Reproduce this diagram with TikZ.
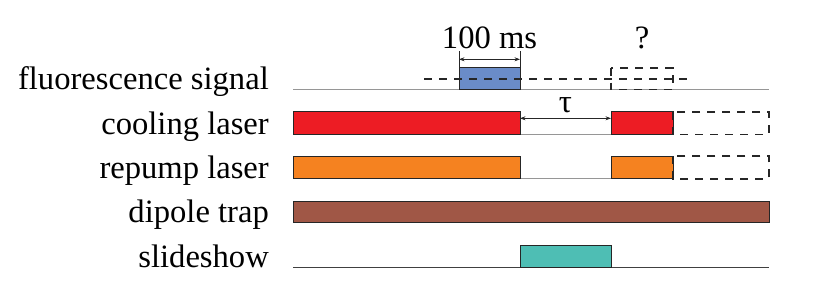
\documentclass[tikz,border=0pt]{standalone}
\usepackage{fontspec}
\setmainfont{Liberation Serif}
\usetikzlibrary{arrows.meta}
\definecolor{sigblue}{RGB}{106,140,200}
\definecolor{coolred}{RGB}{237,28,36}
\definecolor{reporange}{RGB}{245,130,32}
\definecolor{dipbrown}{RGB}{160,87,70}
\definecolor{slteal}{RGB}{78,190,180}
\definecolor{basegray}{RGB}{150,150,150}
\tikzset{
  pulse/.style={draw=black!85,line width=0.9pt},
  ghost/.style={draw=black!85,line width=1.6pt,dash pattern=on 8pt off 7pt},
  baseline/.style={draw=basegray,line width=1pt},
  lbl/.style={anchor=base east,inner sep=0pt,font=\fontsize{32.6}{36}\selectfont},
  toptext/.style={anchor=base,inner sep=0pt,font=\fontsize{32.6}{36}\selectfont},
  dim/.style={draw=black!85,line width=0.7pt,{Stealth[length=5.5pt,width=4pt]}-{Stealth[length=5.5pt,width=4pt]}},
  ext/.style={draw=black!85,line width=0.7pt}
}
\begin{document}
\begin{tikzpicture}[x=1pt,y=-1pt]
\useasboundingbox (0,0) rectangle (830,289);
% labels
\node[lbl] (lf) at (269,89.3) {fluorescence signal};
\node[lbl] (lc) at (269,134) {cooling laser};
\node[lbl] (lr) at (269,178.5) {repump laser};
\node[lbl] (ld) at (269,222.7) {dipole trap};
\node[lbl] (ls) at (269,267.5) {slideshow};
% coordinates
\coordinate (fb0) at (293,89.3); \coordinate (fb1) at (769,89.3);
\coordinate (cg0) at (520,134.3); \coordinate (cg1) at (611,134.3);
\coordinate (rg0) at (520,178.7); \coordinate (rg1) at (611,178.7);
\coordinate (sb0) at (293,267.5); \coordinate (sb1) at (769,267.5);
% baselines
\draw[baseline] (fb0) -- (fb1);
\draw[baseline] (cg0) -- (cg1);
\draw[baseline] (rg0) -- (rg1);
\draw[baseline,draw=black!75] (sb0) -- (sb1);
% fluorescence
\draw[pulse,fill=sigblue] (459,67.7) rectangle (520,89.3);
\draw[ghost] (611,67.7) rectangle (673,89.3);
\coordinate (dl0) at (424,79); \coordinate (dl1) at (691,79);
\draw[ghost] (dl0) -- (dl1);
% dimension 100 ms
\coordinate (e0t) at (459,51); \coordinate (e0b) at (459,67.7);
\coordinate (e1t) at (520,51); \coordinate (e1b) at (520,67.7);
\draw[ext] (e0t) -- (e0b);
\draw[ext] (e1t) -- (e1b);
\coordinate (d0) at (459,59.3); \coordinate (d1) at (520,59.3);
\draw[dim] (d0) -- (d1);
\node[toptext] (t100) at (489.5,48) {100 ms};
\node[toptext] (tq) at (642,48) {?};
% cooling
\draw[pulse,fill=coolred] (293,111.7) rectangle (520,134.3);
\draw[pulse,fill=coolred] (611,111.7) rectangle (673,134.3);
\draw[ghost] (673,111.7) rectangle (769,134.3);
\coordinate (ta0) at (520,118.3); \coordinate (ta1) at (611,118.3);
\draw[dim] (ta0) -- (ta1);
\node[toptext] (ttau) at (565.5,112) {τ};
% repump
\draw[pulse,fill=reporange] (293,156) rectangle (520,178.7);
\draw[pulse,fill=reporange] (611,156) rectangle (673,178.7);
\draw[ghost] (673,156) rectangle (769,178.7);
% dipole
\draw[pulse,fill=dipbrown] (293,201) rectangle (769,222.7);
% slideshow
\draw[pulse,fill=slteal] (520,245) rectangle (611,267.5);
\end{tikzpicture}
\end{document}
